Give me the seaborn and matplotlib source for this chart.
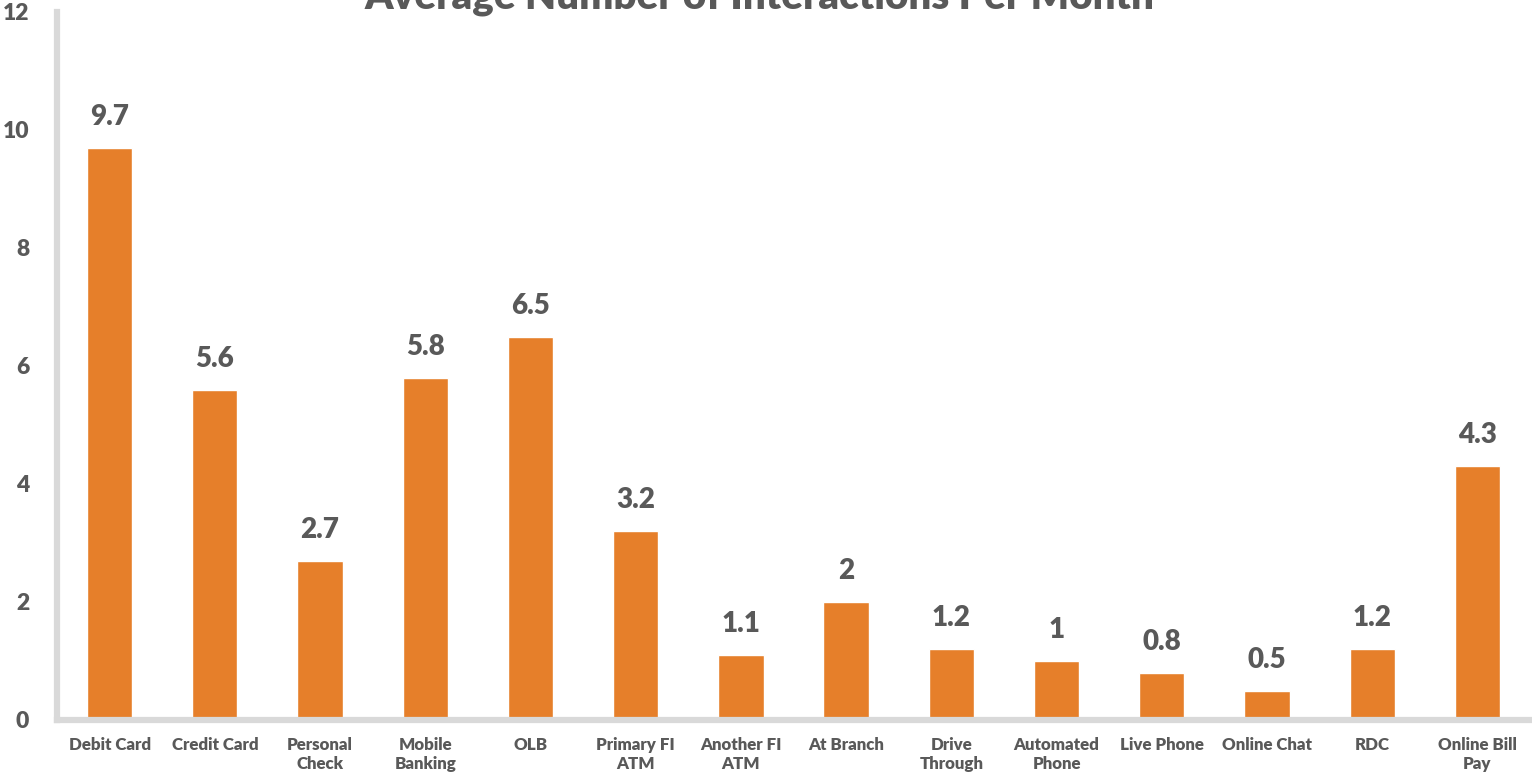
import matplotlib
matplotlib.use("Agg")
import matplotlib.pyplot as plt
import seaborn as sns
import pandas as pd
import numpy as np

categories = ["Debit Card", "Credit Card", "Personal\nCheck", "Mobile\nBanking", "OLB",
              "Primary FI\nATM", "Another FI\nATM", "At Branch", "Drive\nThrough",
              "Automated\nPhone", "Live Phone", "Online Chat", "RDC", "Online Bill\nPay"]
values = [9.7, 5.6, 2.7, 5.8, 6.5, 3.2, 1.1, 2.0, 1.2, 1.0, 0.8, 0.5, 1.2, 4.3]
value_labels = ["9.7", "5.6", "2.7", "5.8", "6.5", "3.2", "1.1", "2", "1.2", "1", "0.8", "0.5", "1.2", "4.3"]
yticks = [0, 2, 4, 6, 8, 10, 12]
title = "Average Number of Interactions Per Month"

sns.set_theme(style="white")
plt.rcParams['font.family'] = ['Lato', 'DejaVu Sans']

df = pd.DataFrame({"cat": categories, "val": values})

fig = plt.figure(figsize=(15.32, 7.78), dpi=100)
ax = fig.add_axes([57/1532, 1-720/778, (1530-57)/1532, (720-12)/778])

sns.barplot(data=df, x="cat", y="val", color="#E67F2A", width=0.43, saturation=1, ax=ax)

txtc = "#595959"
grid_c = "#D9D9D9"
W = "heavy"
ax.set_ylim(0, 12)
ax.set_xlim(-0.5, len(categories) - 0.5)
ax.set_yticks(yticks)
ax.set_yticklabels([str(t) for t in yticks], fontsize=16.5, fontweight=W, color=txtc)
ax.set_xticks(range(len(categories)))
ax.set_xticklabels(categories, fontsize=12.2, fontweight=W, color=txtc, linespacing=1.25)
ax.tick_params(axis="x", length=0, pad=12)
ax.tick_params(axis="y", length=4, width=3, color=grid_c, direction="out", pad=16)
ax.set_xticks(np.arange(-0.5, len(categories)), minor=True)
ax.tick_params(axis="x", which="minor", length=5, width=3, color=grid_c, direction="out")
ax.set_xlabel("")
ax.set_ylabel("")

for s in ["top", "right"]:
    ax.spines[s].set_visible(False)
for s in ["left", "bottom"]:
    ax.spines[s].set_color(grid_c)
    ax.spines[s].set_linewidth(4.5)

for i, (v, lab) in enumerate(zip(values, value_labels)):
    ax.annotate(lab, (i, v), xytext=(0, 16.5), textcoords="offset points",
                ha="center", va="baseline", fontsize=20, fontweight=W, color=txtc)

fig.text(0.496, 1 - 8/778, title, ha="center", va="baseline", fontsize=29,
         fontweight=W, color=txtc)

fig.savefig("out.png", dpi=100)
